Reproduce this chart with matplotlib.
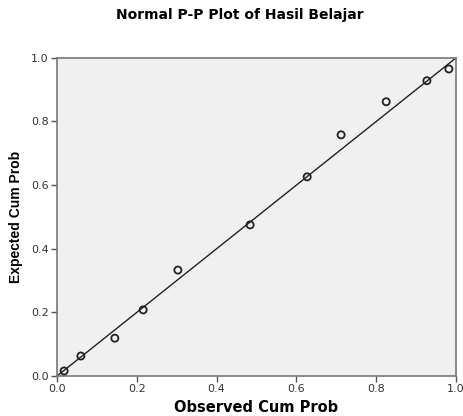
import matplotlib
matplotlib.use("Agg")
import matplotlib.pyplot as plt

# observed vs expected cumulative probabilities
observed = [0.018, 0.060, 0.145, 0.216, 0.303, 0.484, 0.627, 0.712, 0.825, 0.927, 0.982]
expected = [0.016, 0.063, 0.119, 0.208, 0.333, 0.475, 0.626, 0.758, 0.862, 0.928, 0.965]
ticks = [0.0, 0.2, 0.4, 0.6, 0.8, 1.0]
tick_labels = ["0.0", "0.2", "0.4", "0.6", "0.8", "1.0"]

plt.rcParams["font.family"] = ["Liberation Sans", "DejaVu Sans"]
# horizontal text in the original looks stretched -> wider face
wide = ["DejaVu Sans"]

fig = plt.figure(figsize=(4.63, 4.16), dpi=100)
ax = fig.add_axes([0.123, 0.096, 0.862, 0.765])
ax.set_facecolor("#F0F0F0")

ax.plot([0, 1], [0, 1], "-", color="#222222", lw=1.0, zorder=2)
ax.scatter(observed, expected, s=26, facecolors="none", edgecolors="#222222",
           linewidths=1.3, zorder=3)

ax.set_xlim(0, 1)
ax.set_ylim(0, 1)
ax.set_xticks(ticks)
ax.set_xticklabels(tick_labels, family=wide)
ax.set_yticks(ticks)
ax.set_yticklabels(tick_labels, family=wide)
ax.tick_params(direction="out", length=4, width=1.0, color="#555555",
               labelsize=8, labelcolor="#333333", pad=2)
for sp in ax.spines.values():
    sp.set_color("#777777")
    sp.set_linewidth(1.2)

ax.set_xlabel("Observed Cum Prob", fontsize=10.5, fontweight="bold", labelpad=4,
              family=wide)
ax.set_ylabel("Expected Cum Prob", fontsize=10, fontweight="bold", labelpad=6)
fig.text(0.518, 0.963, "Normal P-P Plot of Hasil Belajar", ha="center", va="center",
         fontsize=10, fontweight="bold", family=wide)

fig.savefig("out.png", dpi=100)
